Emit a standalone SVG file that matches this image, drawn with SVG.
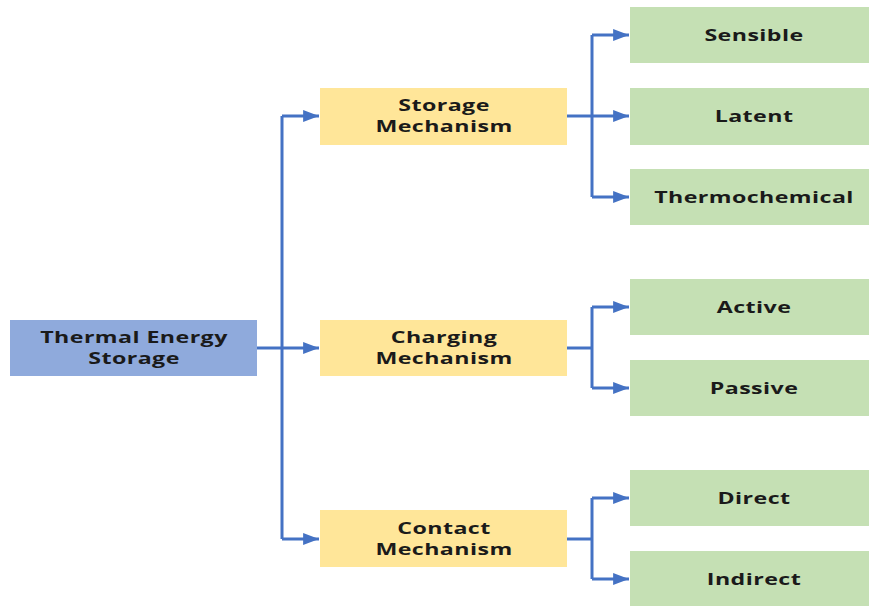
<svg xmlns="http://www.w3.org/2000/svg" width="869" height="606" viewBox="0 0 869 606">
<defs>
<marker id="ah" viewBox="0 0 16 12" refX="16" refY="6" markerWidth="5.3" markerHeight="4" orient="auto" markerUnits="strokeWidth">
<path d="M0,0 L16,6 L0,12 z" fill="#4472C4"/>
</marker>
<style>
.root{fill:#8FAADC}
.mid{fill:#FFE699}
.leaf{fill:#C5E0B4}
.t{font-family:"Open Sans","Liberation Sans",sans-serif;font-weight:bold;font-size:16px;letter-spacing:0.3px;fill:#1a1a1a;text-anchor:middle}
.c{fill:none;stroke:#4472C4;stroke-width:3}
</style>
</defs>
<rect width="869" height="606" fill="#fff"/>
<g id="connectors">
<path class="c" d="M257,348 H282"/>
<path class="c" d="M282,116 V539"/>
<path class="c" d="M282,116 H319" marker-end="url(#ah)"/>
<path class="c" d="M282,348 H319" marker-end="url(#ah)"/>
<path class="c" d="M282,539 H319" marker-end="url(#ah)"/>
<path class="c" d="M567,116 H592"/>
<path class="c" d="M592,35 V197"/>
<path class="c" d="M592,35 H629" marker-end="url(#ah)"/>
<path class="c" d="M592,116 H629" marker-end="url(#ah)"/>
<path class="c" d="M592,197 H629" marker-end="url(#ah)"/>
<path class="c" d="M567,348 H592"/>
<path class="c" d="M592,307 V388"/>
<path class="c" d="M592,307 H629" marker-end="url(#ah)"/>
<path class="c" d="M592,388 H629" marker-end="url(#ah)"/>
<path class="c" d="M567,539 H592"/>
<path class="c" d="M592,498 V579"/>
<path class="c" d="M592,498 H629" marker-end="url(#ah)"/>
<path class="c" d="M592,579 H629" marker-end="url(#ah)"/>
</g>
<g id="tes"><rect class="root" x="10" y="320" width="247" height="56"/><text class="t" transform="translate(134,343) scale(1.45,1)">Thermal Energy</text><text class="t" transform="translate(134,364) scale(1.45,1)">Storage</text></g>
<g id="storage"><rect class="mid" x="320" y="88" width="247" height="57"/><text class="t" transform="translate(444,111) scale(1.45,1)">Storage</text><text class="t" transform="translate(444,132) scale(1.45,1)">Mechanism</text></g>
<g id="charging"><rect class="mid" x="320" y="320" width="247" height="56"/><text class="t" transform="translate(444,343) scale(1.45,1)">Charging</text><text class="t" transform="translate(444,364) scale(1.45,1)">Mechanism</text></g>
<g id="contact"><rect class="mid" x="320" y="510" width="247" height="57"/><text class="t" transform="translate(444,534) scale(1.45,1)">Contact</text><text class="t" transform="translate(444,555) scale(1.45,1)">Mechanism</text></g>
<g id="sensible"><rect class="leaf" x="630" y="7" width="239" height="56"/><text class="t" transform="translate(754,41) scale(1.45,1)">Sensible</text></g>
<g id="latent"><rect class="leaf" x="630" y="88" width="239" height="57"/><text class="t" transform="translate(754,122) scale(1.45,1)">Latent</text></g>
<g id="thermochemical"><rect class="leaf" x="630" y="169" width="239" height="56"/><text class="t" transform="translate(754,203) scale(1.45,1)">Thermochemical</text></g>
<g id="active"><rect class="leaf" x="630" y="279" width="239" height="56"/><text class="t" transform="translate(754,313) scale(1.45,1)">Active</text></g>
<g id="passive"><rect class="leaf" x="630" y="360" width="239" height="56"/><text class="t" transform="translate(754,394) scale(1.45,1)">Passive</text></g>
<g id="direct"><rect class="leaf" x="630" y="470" width="239" height="56"/><text class="t" transform="translate(754,504) scale(1.45,1)">Direct</text></g>
<g id="indirect"><rect class="leaf" x="630" y="551" width="239" height="55"/><text class="t" transform="translate(754,585) scale(1.45,1)">Indirect</text></g>
</svg>
